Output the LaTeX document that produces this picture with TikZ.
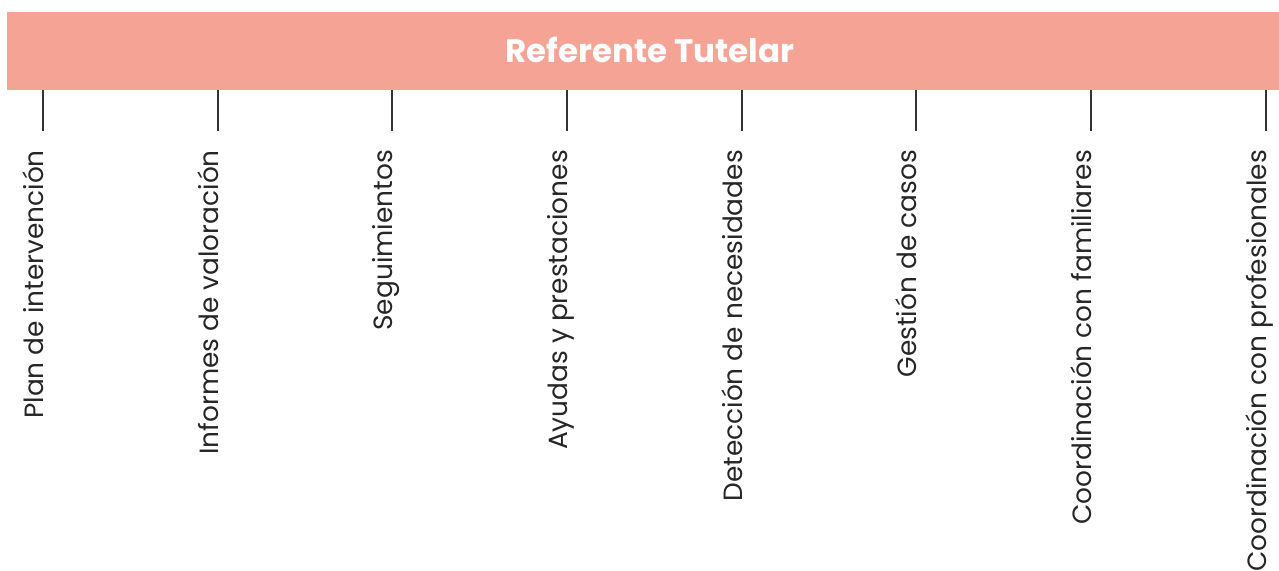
\documentclass[tikz,border=0pt]{standalone}
\usepackage{fontspec}
\setmainfont{Poppins}
\definecolor{barcol}{HTML}{F5A394}
\definecolor{linecol}{HTML}{333333}
\begin{document}
\begin{tikzpicture}[x=1pt,y=-1pt,
  bar/.style={fill=barcol,draw=none},
  tick/.style={draw=linecol,line width=1.3pt},
  lbl/.style={rotate=90,anchor=base east,inner sep=0pt,font=\fontsize{26.4}{30}\selectfont,text=black!85},
  ttl/.style={font=\fontsize{32.5}{36}\selectfont\bfseries,text=white}]
\useasboundingbox (0,0) rectangle (1279,570);
\path[bar] (7,12) rectangle (1279,90);
\node[ttl] (title) at (650,50) {Referente Tutelar};
\foreach \x/\t [count=\i] in {43/Plan de intervención,218/Informes de valoración,392/Seguimientos,567/Ayudas y prestaciones,742/Detección de necesidades,916/Gestión de casos,1091/Coordinación con familiares,1266/Coordinación con profesionales}{
  \coordinate (top\i) at (\x,90);
  \coordinate (bot\i) at (\x,131);
  \draw[tick] (top\i) -- (bot\i);
  \node[lbl] (l\i) at (\x,150) {\t};
}
\end{tikzpicture}
\end{document}
